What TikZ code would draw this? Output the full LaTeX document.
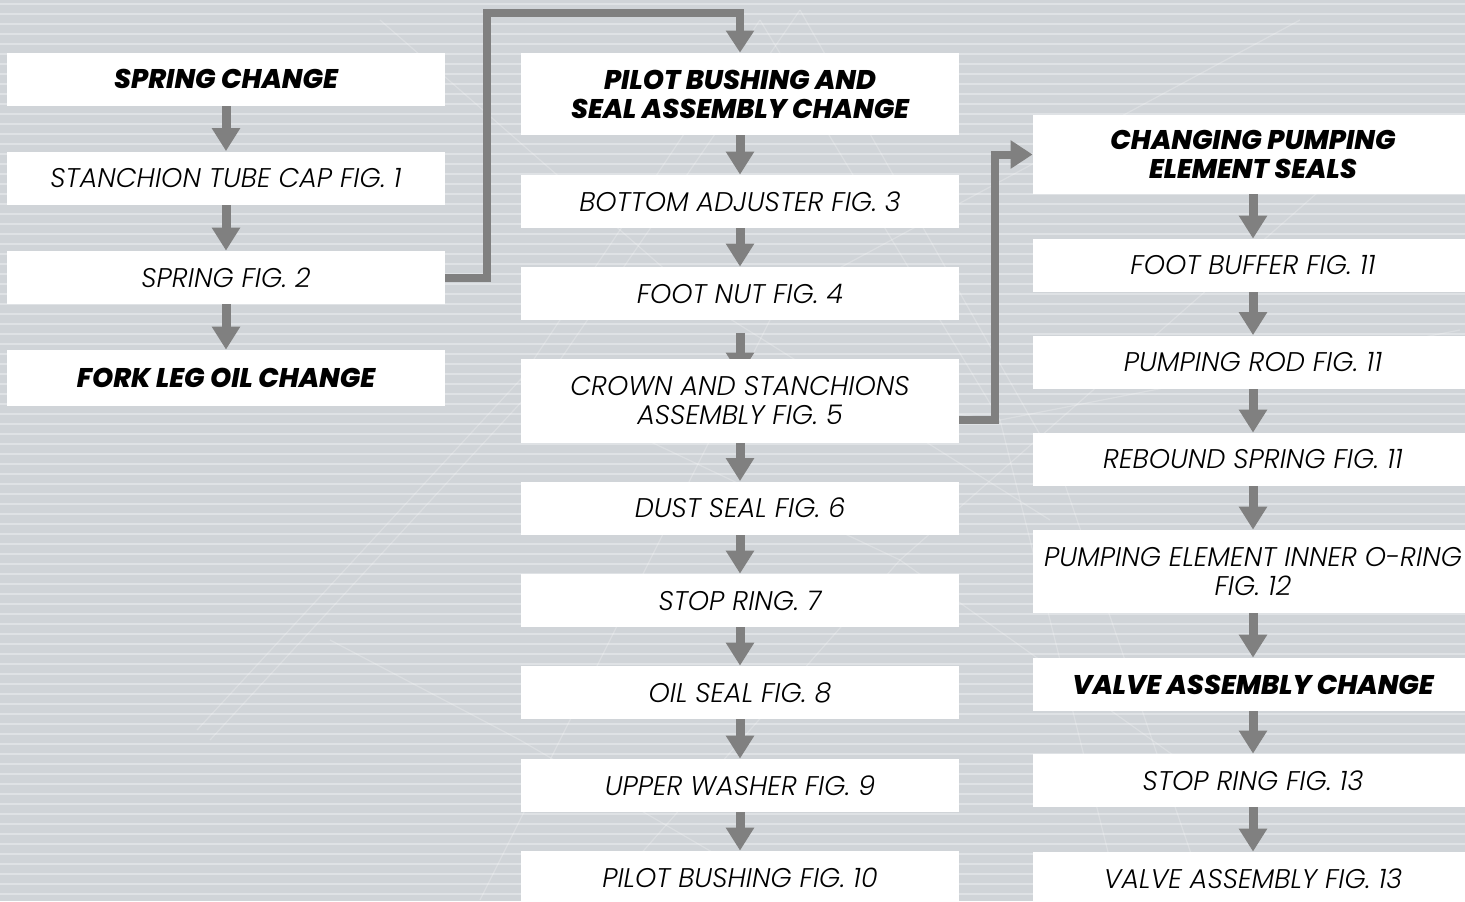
\documentclass[tikz,border=0pt]{standalone}
\usepackage{fontspec}
\setmainfont{Poppins}[ItalicFont={Poppins Light Italic}, BoldItalicFont={Poppins ExtraBold Italic}]
\usetikzlibrary{arrows.meta,calc}
\definecolor{bggray}{HTML}{D0D4D8}
\definecolor{stripe}{HTML}{DFE2E5}
\definecolor{arrgray}{HTML}{808080}
\pgfdeclarelayer{bg}
\pgfdeclarelayer{arrlayer}
\pgfsetlayers{bg,arrlayer,main}
\begin{document}
\begin{tikzpicture}[x=0.5pt,y=-0.5pt,
  box/.style={fill=white, inner sep=0pt, align=center, minimum width=219pt, minimum height=#1},
  box/.default=26.5pt,
  wbox/.style={box=#1, minimum width=220pt},
  wbox/.default=26.5pt,
  reg/.style={font=\fontsize{13.5}{14.5}\selectfont\itshape},
  hd/.style={font=\fontsize{13.5}{14.5}\selectfont\bfseries\itshape},
  arr/.style={draw=arrgray, line width=4.5pt, -{Triangle[width=13.5pt,length=11.5pt]}},
  link/.style={draw=arrgray, line width=4pt, line join=miter, -{Triangle[width=13.5pt,length=11pt]}},
  sketch/.style={draw=white, opacity=0.22, line width=0.6pt},
]
\useasboundingbox (0,0) rectangle (1465,901);
\begin{pgfonlayer}{bg}
  \fill[bggray] (0,0) rectangle (1465,901);
  \foreach \yy in {4,14,...,904} \draw[stripe, line width=0.6pt] (0,\yy) -- (1465,\yy);
  % faint wireframe sketch
  \draw[sketch] (197,730) -- (520,380) -- (760,20);
  \draw[sketch] (210,740) -- (560,360) -- (800,10);
  \draw[sketch] (330,640) -- (520,740) -- (760,880);
  \draw[sketch] (520,380) -- (900,560) -- (1180,760);
  \draw[sketch] (760,20) -- (1000,420) -- (1120,900);
  \draw[sketch] (800,10) -- (1060,470) -- (1200,880);
  \draw[sketch] (480,900) -- (780,300) -- (1300,20);
  \draw[sketch] (600,900) -- (900,560) -- (1400,120);
  \draw[sketch] (380,20) -- (700,300) -- (1050,520);
  \draw[sketch] (560,360) -- (1000,420) -- (1460,330);
\end{pgfonlayer}

% column 1
\node[box, hd]  (sc)  at (226,79)    {SPRING CHANGE};
\node[box, reg] (stc) at (226,178)   {STANCHION TUBE CAP FIG. 1};
\node[box, reg] (sf2) at (226,277.5) {SPRING FIG. 2};
\node[box=28pt, hd] (flo) at (226,378) {FORK LEG OIL CHANGE};

% column 2
\node[box=41pt, hd]  (pb)   at (740,94)    {PILOT BUSHING AND\\SEAL ASSEMBLY CHANGE};
\node[box, reg]      (ba)   at (740,201.5) {BOTTOM ADJUSTER FIG. 3};
\node[box, reg]      (fn)   at (740,293.5) {FOOT NUT FIG. 4};
\node[box=42pt, reg] (cs)   at (740,401)   {CROWN AND STANCHIONS\\ASSEMBLY FIG. 5};
\node[box, reg]      (ds)   at (740,508)   {DUST SEAL FIG. 6};
\node[box, reg]      (sr7)  at (740,600.5) {STOP RING. 7};
\node[box, reg]      (os)   at (740,692.5) {OIL SEAL FIG. 8};
\node[box, reg]      (uw)   at (740,785.5) {UPPER WASHER FIG. 9};
\node[box=27pt, reg] (pb10) at (740,878)   {PILOT BUSHING FIG. 10};

% column 3
\node[wbox=39.5pt, hd]  (cpe)  at (1253,154.5) {CHANGING PUMPING\\ELEMENT SEALS};
\node[wbox, reg]        (fb)   at (1253,265.5) {FOOT BUFFER FIG. 11};
\node[wbox, reg]        (pr)   at (1253,362)   {PUMPING ROD FIG. 11};
\node[wbox, reg]        (rs)   at (1253,459.5) {REBOUND SPRING FIG. 11};
\node[wbox=41.5pt, reg] (pei)  at (1253,571.5) {PUMPING ELEMENT INNER O-RING\\FIG. 12};
\node[wbox, hd]         (vac)  at (1253,684.5) {VALVE ASSEMBLY CHANGE};
\node[wbox, reg]        (sr13) at (1253,780.5) {STOP RING FIG. 13};
\node[wbox=27pt, reg]   (va13) at (1253,879)   {VALVE ASSEMBLY FIG. 13};

\coordinate (k1) at (487,13);
\coordinate (k2) at (995,420);

\begin{pgfonlayer}{arrlayer}
  \draw[arr] (sc) -- (stc);
  \draw[arr] (stc) -- (sf2);
  \draw[arr] (sf2) -- (flo);

  \draw[arr] (pb) -- (ba);
  \draw[arr] (ba) -- (fn);
  \draw[arr] ($(fn.south)+(0,13)$) -- ($(cs.north)+(0,17)$);
  \draw[arr] (cs) -- (ds);
  \draw[arr] (ds) -- (sr7);
  \draw[arr] (sr7) -- (os);
  \draw[arr] (os) -- (uw);
  \draw[arr] (uw) -- (pb10);

  \draw[arr] (cpe) -- (fb);
  \draw[arr] (fb) -- (pr);
  \draw[arr] (pr) -- (rs);
  \draw[arr] (rs) -- (pei);
  \draw[arr] (pei) -- (vac);
  \draw[arr] (vac) -- (sr13);
  \draw[arr] (sr13) -- (va13);

  \draw[link] (sf2.east) -| (k1) -| (pb.north);
  \draw[link] (cs.east |- k2) -- (k2) |- (cpe.west);
\end{pgfonlayer}
\end{tikzpicture}
\end{document}
